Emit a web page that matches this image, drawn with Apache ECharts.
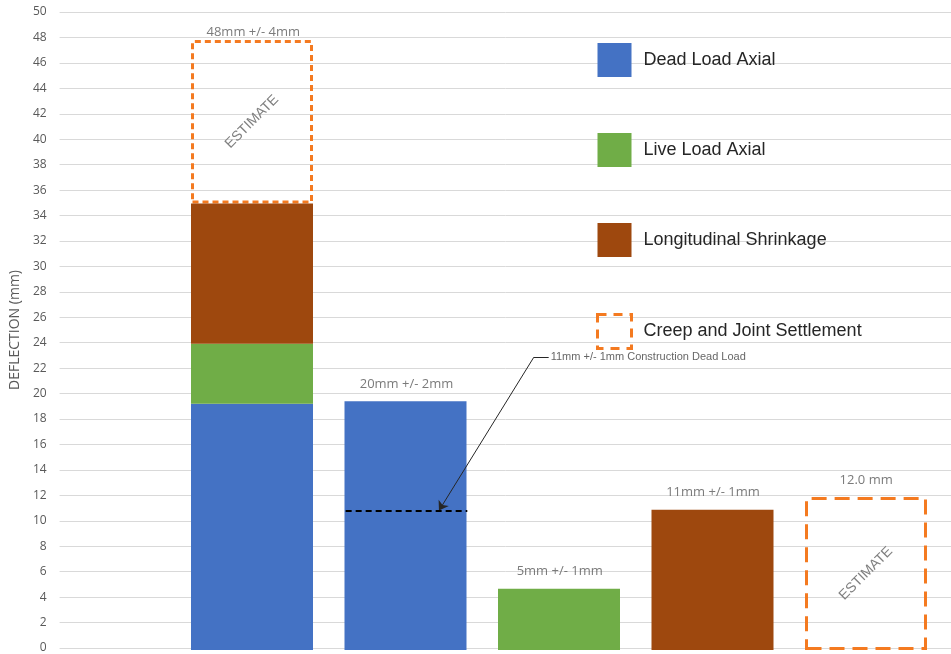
<!DOCTYPE html>
<html>
<head>
<meta charset="utf-8">
<script src="https://cdn.jsdelivr.net/npm/echarts@6/dist/echarts.min.js"></script>
<style>
html,body{margin:0;padding:0;background:#fff;}
#chart{width:951px;height:654px;}
</style>
</head>
<body>
<div id="chart"></div>
<script>
// ---- data ----
const categories = ['', 'Total', 'Dead Load', 'Live Load', 'Shrinkage', 'Creep'];
const deadLoadAxial = [null, 19.3, 19.5, null, null, null];
const liveLoadAxial = [null, 4.7, null, 4.8, null, null];
const longShrinkage = [null, 11.0, null, null, 11.0, null];
const creepSettlement = [null, 12.8, null, null, null, 12.0];
const topLabels = [null, '48mm +/- 4mm', '20mm +/- 2mm', '5mm +/- 1mm', '11mm +/- 1mm', '12.0 mm'];
const constructionDeadLoad = 10.8;
const annotationText = '11mm +/- 1mm Construction Dead Load';
const yTicks = {min: 0, max: 50, interval: 2};

const BLUE = '#4472C4', GREEN = '#70AD47', BROWN = '#9E480E', ORANGE = '#F47A20';

const toSeries = arr => arr.map(v => (v === null ? '-' : v));
const totals = categories.map((c, i) =>
  [deadLoadAxial, liveLoadAxial, longShrinkage, creepSettlement]
    .reduce((s, a) => s + (a[i] || 0), 0));

const labelData = [];
topLabels.forEach((t, i) => {
  if (t) labelData.push({value: [i, totals[i]], label: {distance: i === 1 ? 1 : 9}});
});

const creepData = creepSettlement.map((v, i) => v === null ? '-' : {
  value: v,
  itemStyle: {borderType: i === 1 ? [6, 4] : [15, 8]}
});

const halfBar = 0.397;
const FONT = 'Open Sans';
const yRange = {min: yTicks.min, max: yTicks.max, interval: yTicks.interval};

const chart = echarts.init(document.getElementById('chart'));
chart.setOption({
  animation: false,
  textStyle: {fontFamily: FONT},
  grid: [
    {left: 58, right: 0, top: 12, bottom: 4},
    {left: 21.75, right: 8.25, top: 12, bottom: 4}
  ],
  xAxis: [
    {gridIndex: 0, type: 'value', min: -0.2638, max: 5.5537, show: false},
    {gridIndex: 1, type: 'category', data: categories, show: false}
  ],
  yAxis: [
    Object.assign({
      gridIndex: 0, type: 'value',
      name: 'DEFLECTION (mm)', nameLocation: 'middle', nameGap: 32,
      nameTextStyle: {color: '#595959', fontSize: 14, fontFamily: FONT},
      axisLine: {show: false}, axisTick: {show: false},
      axisLabel: {color: '#595959', fontSize: 12, margin: 13, fontFamily: FONT},
      splitLine: {lineStyle: {color: '#D9D9D9', width: 1}}
    }, yRange),
    Object.assign({gridIndex: 1, type: 'value', show: false, splitLine: {show: false}}, yRange)
  ],
  legend: {
    orient: 'vertical', left: 596, top: 43, padding: 0,
    itemWidth: 34, itemHeight: 34, itemGap: 56,
    icon: 'rect',
    textStyle: {fontSize: 18, color: '#262626', fontFamily: 'Liberation Sans', padding: [0, 0, 0, 7]},
    data: [
      {name: 'Dead Load Axial'},
      {name: 'Live Load Axial'},
      {name: 'Longitudinal Shrinkage'},
      {name: 'Creep and Joint Settlement',
       itemStyle: {color: 'rgba(255,255,255,0)', borderColor: ORANGE, borderWidth: 3, borderType: [9, 7]}}
    ]
  },
  series: [
    {
      name: 'Dead Load Axial', type: 'bar', stack: 'total', barWidth: 122,
      xAxisIndex: 1, yAxisIndex: 1,
      data: toSeries(deadLoadAxial), itemStyle: {color: BLUE}
    },
    {
      name: 'Live Load Axial', type: 'bar', stack: 'total', barWidth: 122,
      xAxisIndex: 1, yAxisIndex: 1,
      data: toSeries(liveLoadAxial), itemStyle: {color: GREEN}
    },
    {
      name: 'Longitudinal Shrinkage', type: 'bar', stack: 'total', barWidth: 122, z: 3,
      xAxisIndex: 1, yAxisIndex: 1,
      data: toSeries(longShrinkage), itemStyle: {color: BROWN}
    },
    {
      name: 'Creep and Joint Settlement', type: 'bar', stack: 'total', barWidth: 122, z: 2,
      xAxisIndex: 1, yAxisIndex: 1,
      data: creepData,
      itemStyle: {color: 'rgba(255,255,255,0)', borderColor: ORANGE, borderWidth: 3, borderType: 'dashed'},
      label: {show: true, position: 'inside', rotate: 45, formatter: 'ESTIMATE',
              color: '#808080', fontSize: 14, fontFamily: 'Liberation Sans'}
    },
    {
      name: 'labels', type: 'scatter', symbolSize: 0, silent: true, z: 5,
      xAxisIndex: 0, yAxisIndex: 0,
      data: labelData,
      label: {show: true, position: 'top', color: '#595959', fontSize: 13,
              formatter: p => topLabels[p.value[0]]}
    },
    {
      name: 'annotation', type: 'scatter', symbolSize: 0, silent: true, z: 5,
      xAxisIndex: 0, yAxisIndex: 0,
      data: [[2.928, 22.86]],
      label: {show: true, position: 'right', distance: 2, color: '#404040', fontSize: 11,
              fontFamily: 'Liberation Sans', formatter: annotationText},
      markLine: {
        silent: true, animation: false, symbolSize: 9,
        label: {show: false},
        lineStyle: {color: '#262626', width: 1, type: 'solid'},
        data: [
          [{coord: [2.928, 22.86], symbol: 'none'}, {coord: [2.831, 22.86], symbol: 'none'}],
          [{coord: [2.831, 22.86], symbol: 'none'}, {coord: [2.212, constructionDeadLoad], symbol: 'arrow'}]
        ]
      }
    },
    {
      name: 'constructionLine', type: 'scatter', symbolSize: 0, silent: true, z: 4,
      xAxisIndex: 0, yAxisIndex: 0,
      data: [],
      markLine: {
        silent: true, animation: false, symbol: 'none',
        label: {show: false},
        lineStyle: {color: '#000', width: 2, type: [6, 4]},
        data: [
          [{coord: [2 - halfBar, constructionDeadLoad]}, {coord: [2 + halfBar, constructionDeadLoad]}]
        ]
      }
    }
  ]
});
</script>
</body>
</html>
